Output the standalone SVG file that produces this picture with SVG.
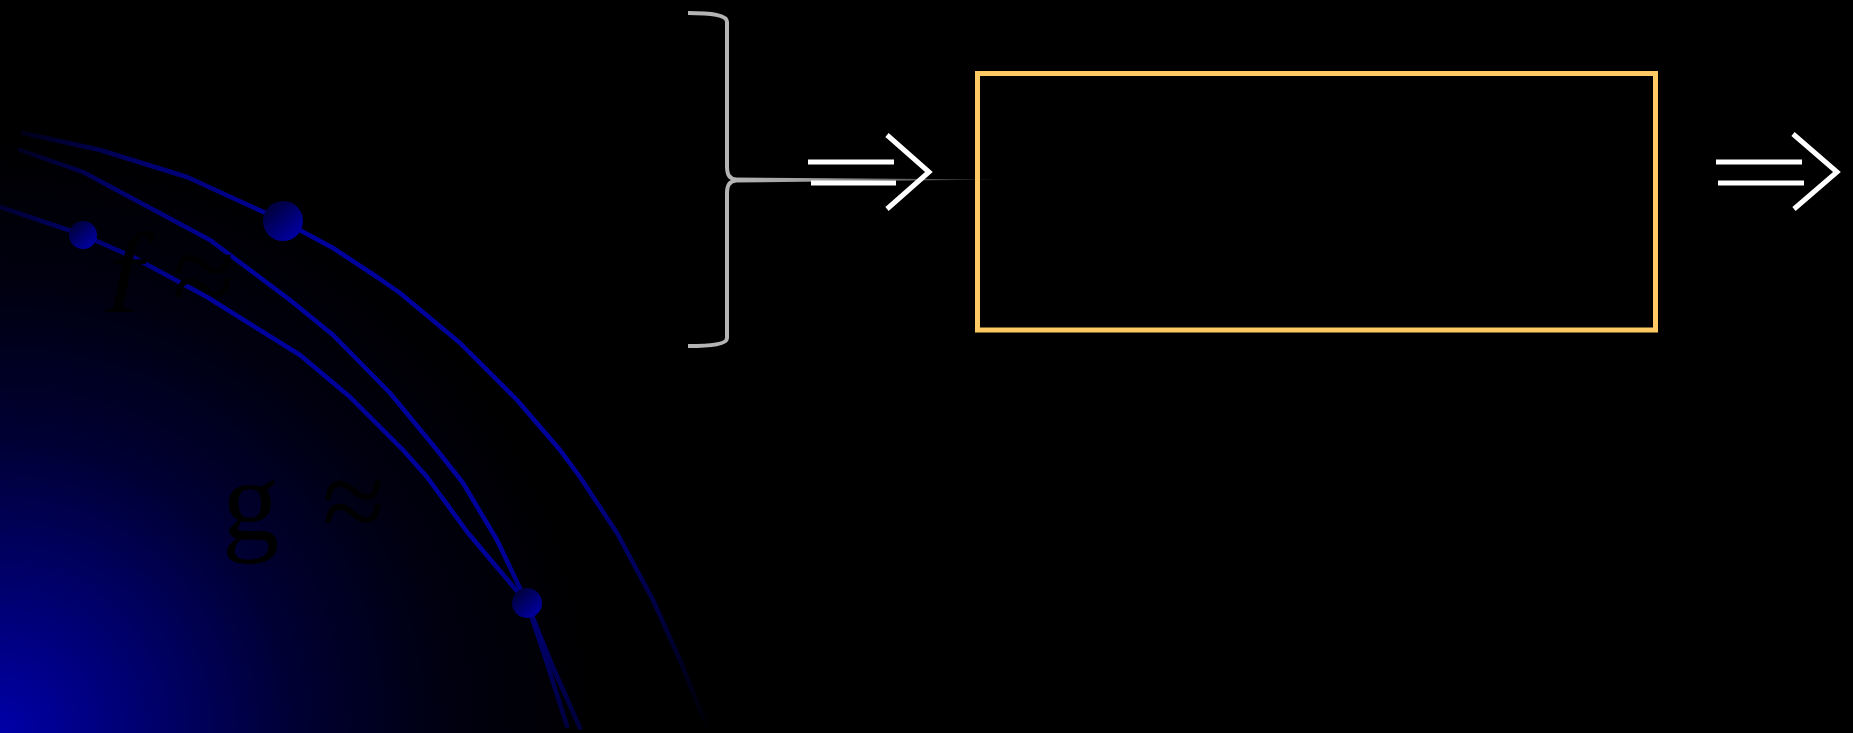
<svg xmlns="http://www.w3.org/2000/svg" width="1853" height="733" viewBox="0 0 1853 733">
  <style>
    .orbit { fill: none; stroke: url(#orbitGrad); stroke-width: 4.5; stroke-linejoin: round; stroke-linecap: round; }
    .ball { fill: url(#ballGrad); }
    .formula { font-family: "Liberation Serif", "Times New Roman", serif; font-size: 115px; fill: #000000; }
    .arrow { fill: none; stroke: #ffffff; stroke-width: 5; stroke-linecap: butt; }
    .brace { fill: none; stroke: #b4b4b4; stroke-width: 4; stroke-linejoin: round; }
    .box { fill: none; stroke: #ffc963; stroke-width: 5; }
  </style>
  <defs>
    <radialGradient id="bgGrad" gradientUnits="userSpaceOnUse" cx="0" cy="733" r="600">
      <stop offset="0" stop-color="#0000a8"/>
      <stop offset="0.25" stop-color="#00006c"/>
      <stop offset="0.5" stop-color="#000032"/>
      <stop offset="0.75" stop-color="#000010"/>
      <stop offset="1" stop-color="#000000"/>
    </radialGradient>
    <linearGradient id="orbitGrad" gradientUnits="userSpaceOnUse" x1="0" y1="140" x2="700" y2="733">
      <stop offset="0" stop-color="#000010"/>
      <stop offset="0.14" stop-color="#000070"/>
      <stop offset="0.3" stop-color="#00009c"/>
      <stop offset="0.7" stop-color="#00009a"/>
      <stop offset="1" stop-color="#000005"/>
    </linearGradient>
    <linearGradient id="ballGrad" x1="0.15" y1="0.1" x2="0.85" y2="0.9">
      <stop offset="0" stop-color="#000038"/>
      <stop offset="1" stop-color="#0000a4"/>
    </linearGradient>
    <linearGradient id="tailGrad" gradientUnits="userSpaceOnUse" x1="733" y1="0" x2="998" y2="0">
      <stop offset="0" stop-color="#b4b4b4"/>
      <stop offset="0.35" stop-color="#9a9a9a"/>
      <stop offset="1" stop-color="#202020"/>
    </linearGradient>
  </defs>

  <g id="background">
    <rect x="0" y="0" width="1853" height="733" fill="#000000"/>
    <rect x="0" y="0" width="760" height="733" fill="url(#bgGrad)"/>
  </g>

  <g id="orbits">
    <polyline class="orbit" points="23,133 100,150 187,177 283,221 333,248 377,277 400,293 460,343 517,400 560,450 580,477 617,533 653,600 680,660 705,722"/>
    <polyline class="orbit" points="20,150 83,172 210,240 290,300 333,335 390,393 437,450 463,483 497,540 527,603 552,665 580,728"/>
    <polyline class="orbit" points="0,207 83,235 133,257 207,297 300,355 350,397 403,450 427,477 468,533 527,603 546,660 567,726"/>
  </g>

  <g id="balls">
    <circle id="ball-large" class="ball" cx="283" cy="221" r="20"/>
    <circle id="ball-left" class="ball" cx="83" cy="235" r="14"/>
    <circle id="ball-bottom" class="ball" cx="527" cy="603" r="15"/>
  </g>

  <g id="labels">
    <text class="formula" x="166" y="312" transform="skewX(-12)">f</text>
    <text class="formula" x="172" y="314">≈</text>
    <text class="formula" x="222" y="540">g <tspan x="322">≈</tspan></text>
  </g>

  <g id="connectors">
    <polygon points="733,177.5 998,179.6 733,182.5" fill="url(#tailGrad)"/>
  </g>

  <g id="brace">
    <path class="brace" d="M688,13 C712,13 727,15 727,22 L727,166 C727,175 729,178 736,180 C729,182 727,185 727,194 L727,338 C727,344 712,346 688,346"/>
  </g>

  <g id="arrow-in">
    <line class="arrow" x1="808" y1="162" x2="894" y2="162"/>
    <line class="arrow" x1="811" y1="183" x2="896" y2="183"/>
    <polyline class="arrow" points="887,135 929,172 887,209" stroke-linejoin="miter"/>
  </g>

  <g id="box">
    <rect class="box" x="977.5" y="73.5" width="678" height="256.5"/>
  </g>

  <g id="arrow-out">
    <line class="arrow" x1="1716" y1="162" x2="1802" y2="162"/>
    <line class="arrow" x1="1718" y1="183" x2="1804" y2="183"/>
    <polyline class="arrow" points="1793,134 1837,172 1794,209" stroke-linejoin="miter"/>
  </g>
</svg>
